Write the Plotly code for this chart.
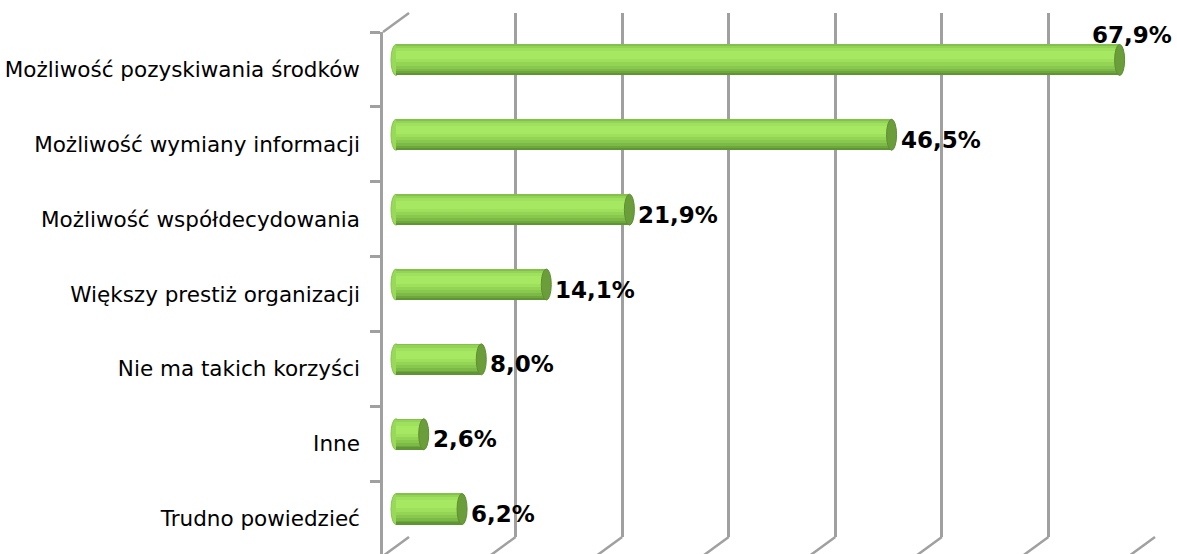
import plotly.graph_objects as go

categories = [
    "Możliwość pozyskiwania środków",
    "Możliwość wymiany informacji",
    "Możliwość współdecydowania",
    "Większy prestiż organizacji",
    "Nie ma takich korzyści",
    "Inne",
    "Trudno powiedzieć",
]
values = [67.9, 46.5, 21.9, 14.1, 8.0, 2.6, 6.2]
grid_ticks = [0, 10, 20, 30, 40, 50, 60, 70]

# ---- layout geometry (pixels) ----
W, H = 1177, 554
ML, MR, MT, MB = 383, 22, 13, 0
PW, PH = W - ML - MR, H - MT - MB
DEPTH_X, DEPTH_Y = 26, 19          # oblique 3D offset front->back
XMAX = 70
PX_PER_UNIT = (PW - DEPTH_X) / XMAX
BACK_BOTTOM_GAP = 17
BAND = (H - MT - BACK_BOTTOM_GAP) / len(categories)   # category band height
BAR_W = 0.414
GRID = "#a0a0a0"

def fx(px):
    return (px - ML) / PW

def fy(py):
    return (H - MB - py) / PH

back_left, back_top, back_bottom = ML + DEPTH_X, MT, MT + BAND * len(categories)
front_top = back_top + DEPTH_Y
mid_left = ML + DEPTH_X / 2
mid_top = back_top + DEPTH_Y / 2

fig = go.Figure()

# bar plane ranges (domain = full paper area)
x2_range = [-(mid_left - ML) / PX_PER_UNIT, (ML + PW - mid_left) / PX_PER_UNIT]
c0 = mid_top + BAND / 2
y2_range = [(H - MB - c0) / BAND, -(c0 - MT) / BAND]

# gradient stripes for the cylinder body (top -> bottom)
stops = [
    (0.00, "#84c04a"), (0.05, "#92d455"), (0.12, "#9fe05e"), (0.22, "#a7e863"),
    (0.36, "#a6e862"), (0.48, "#9edf5c"), (0.58, "#94d455"), (0.68, "#89c84e"),
    (0.78, "#7cb946"), (0.87, "#6ea83d"), (0.94, "#5f9534"),
]
for i, (t0, col) in enumerate(stops):
    t1 = stops[i + 1][0] if i + 1 < len(stops) else 1.0
    ov = 0.006 if i + 1 < len(stops) else 0.0
    fig.add_trace(go.Bar(
        x=values, y=categories, orientation="h",
        base=0,
        width=(t1 - t0) * BAR_W + ov,
        offset=-BAR_W / 2 + t0 * BAR_W,
        marker=dict(color=col, line=dict(width=0)),
        xaxis="x2", yaxis="y2", hoverinfo="skip", showlegend=False,
    ))

# grid subplot (back wall)
fig.add_trace(go.Scatter(x=[None], y=[None], xaxis="x", yaxis="y",
                         hoverinfo="skip", showlegend=False))
# front axis subplot
fig.add_trace(go.Scatter(x=[0] * len(categories), y=categories, mode="markers",
                         marker=dict(opacity=0), xaxis="x3", yaxis="y3",
                         hoverinfo="skip", showlegend=False))

shapes = []
cap_half = 5 / PX_PER_UNIT
for i, v in enumerate(values):
    # rounded left end
    shapes.append(dict(type="circle", xref="x2", yref="y2",
                       x0=-cap_half, x1=cap_half,
                       y0=i - BAR_W / 2, y1=i + BAR_W / 2,
                       fillcolor="#98da58", line=dict(color="#86c44d", width=1),
                       layer="below"))
    # right end cap
    shapes.append(dict(type="circle", xref="x2", yref="y2",
                       x0=v - cap_half, x1=v + cap_half,
                       y0=i - BAR_W / 2, y1=i + BAR_W / 2,
                       fillcolor="#6b9e3b", line=dict(color="#5e8f32", width=1),
                       layer="above"))

# oblique floor lines and top-left wall edge
for t in grid_ticks:
    bx = back_left + t * PX_PER_UNIT
    shapes.append(dict(type="line", xref="paper", yref="paper",
                       x0=fx(bx), y0=fy(back_bottom),
                       x1=fx(bx - DEPTH_X), y1=fy(back_bottom + DEPTH_Y),
                       line=dict(color=GRID, width=2.5)))
shapes.append(dict(type="line", xref="paper", yref="paper",
                   x0=fx(ML), y0=fy(front_top), x1=fx(back_left), y1=fy(back_top),
                   line=dict(color=GRID, width=2.5)))

LABEL_FONT = dict(family="DejaVu Sans", size=23, color="#000000", weight="bold")
annotations = []
for i, v in enumerate(values):
    txt = f"{v:.1f}".replace(".", ",") + "%"
    if i == 0:
        annotations.append(dict(x=v, y=i, xref="x2", yref="y2", text=txt,
                                showarrow=False, xanchor="center", yanchor="middle",
                                xshift=12, yshift=25, font=LABEL_FONT))
    else:
        annotations.append(dict(x=v, y=i, xref="x2", yref="y2", text=txt,
                                showarrow=False, xanchor="left", yanchor="middle",
                                xshift=7, yshift=-5, font=LABEL_FONT))

n = len(categories)
fig.update_layout(
    width=W, height=H,
    margin=dict(l=ML, r=MR, t=MT, b=MB, pad=0),
    paper_bgcolor="white", plot_bgcolor="rgba(0,0,0,0)",
    barmode="overlay", bargap=0,
    showlegend=False,
    xaxis=dict(domain=[fx(back_left), 1], range=[0, XMAX], tickvals=grid_ticks,
               showgrid=True, gridcolor=GRID, gridwidth=2.5, zeroline=False,
               showticklabels=False, ticks="", showline=False, anchor="y"),
    yaxis=dict(domain=[fy(back_bottom), 1], range=[0, 1], showgrid=False,
               zeroline=False, showticklabels=False, ticks="", showline=False,
               anchor="x"),
    xaxis2=dict(domain=[0, 1], range=x2_range, visible=False, anchor="y2"),
    yaxis2=dict(domain=[0, 1], range=y2_range, type="category",
                categoryorder="array", categoryarray=categories,
                visible=False, anchor="x2"),
    xaxis3=dict(domain=[0, 1], range=[0, 1], visible=False, anchor="y3"),
    yaxis3=dict(domain=[0, fy(front_top)], type="category",
                categoryorder="array", categoryarray=categories,
                range=[n - 0.5 - (back_bottom + DEPTH_Y - (H - MB)) / BAND, -0.5],
                anchor="x3", showline=True, linecolor=GRID, linewidth=2.5,
                ticks="outside", tickson="boundaries", ticklen=10,
                tickcolor=GRID, tickwidth=2.5, showgrid=False, zeroline=False,
                ticklabelstandoff=16,
                tickfont=dict(family="DejaVu Sans", size=21.5, color="#000000")),
    shapes=shapes,
    annotations=annotations,
)

fig.write_html(
    "out.html",
    config={"displayModeBar": False},
    post_script="document.body.style.margin='0';document.body.style.overflow='hidden';",
)
